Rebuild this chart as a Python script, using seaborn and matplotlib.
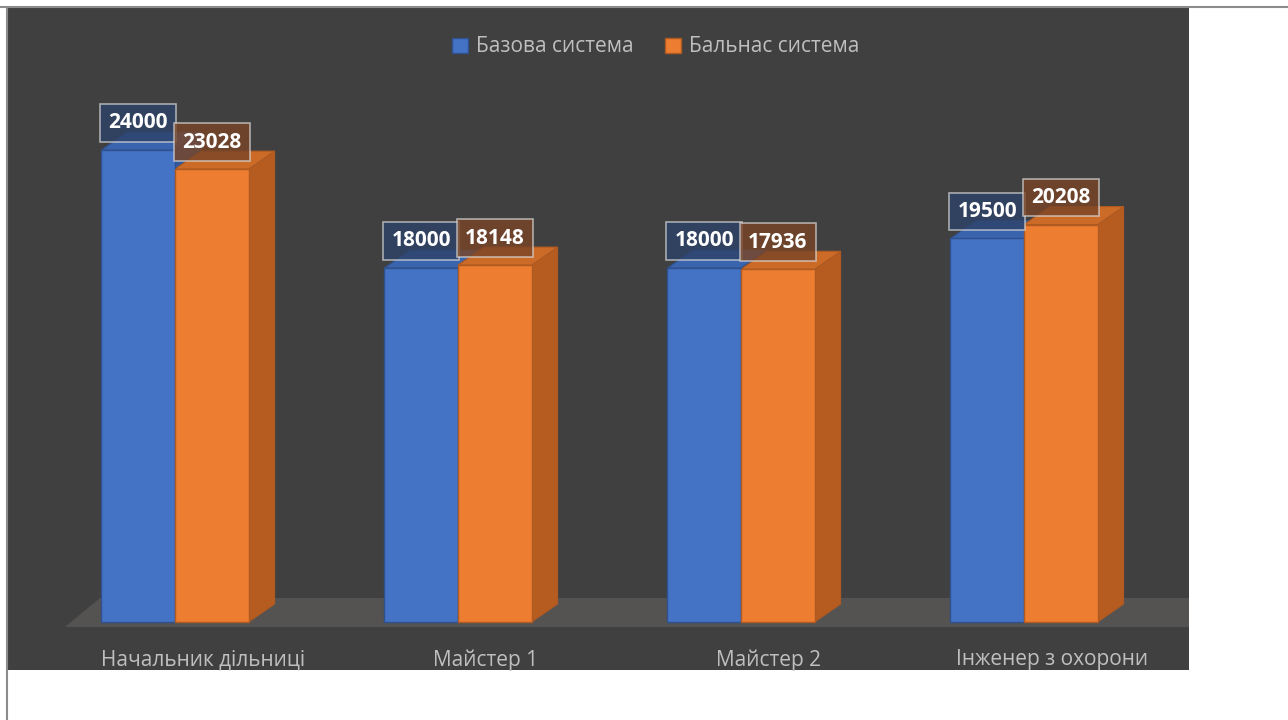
import numpy as np
import pandas as pd
import matplotlib
matplotlib.use("Agg")
import matplotlib.pyplot as plt
import seaborn as sns
from matplotlib.patches import Polygon, Rectangle
from matplotlib.lines import Line2D

# Дані з діаграми
categories = ["Начальник дільниці", "Майстер 1", "Майстер 2", "Інженер з охорони"]
series = ["Базова система", "Бальнас система"]
base_values = [24000, 18000, 18000, 19500]
bal_values = [23028, 18148, 17936, 20208]

front_colors = ["#4472C4", "#ED7D31"]
edge_colors = ["#2F528F", "#AE5A21"]
top_colors = ["#3B64AE", "#CC6A28"]
side_colors = ["#34599C", "#B65C20"]
box_colors = [(0.18, 0.26, 0.41, 0.8), (0.48, 0.27, 0.15, 0.8)]

df = pd.DataFrame({
    "cat": categories * 2,
    "series": [series[0]] * len(categories) + [series[1]] * len(categories),
    "value": base_values + bal_values,
})

sns.set_theme(style="dark")
plt.rcParams["font.family"] = ["Open Sans", "DejaVu Sans"]

W, H = 1288, 720
fig = plt.figure(figsize=(W / 100, H / 100), dpi=100)
fig.patch.set_facecolor("white")

# рамка
fig.lines.append(Line2D([0, 1], [1 - 7 / H, 1 - 7 / H], transform=fig.transFigure,
                        color="#8c8c8c", lw=1.5))
fig.lines.append(Line2D([7 / W, 7 / W], [0, 1 - 7 / H], transform=fig.transFigure,
                        color="#8c8c8c", lw=1.5))

# темна панель = сама вісь
ax = fig.add_axes([7 / W, 1 - 670 / H, 1182 / W, 662 / H])
ax.set_facecolor("#404040")

# масштаб: одиниць даних на піксель
xpp = 1 / 283
ypp = 24000 / 472
dx, dy = 26 * xpp, 18 * ypp

sns.barplot(data=df, x="cat", y="value", hue="series", palette=front_colors,
            width=0.52, saturation=1, ax=ax, legend=False, zorder=3, linewidth=1)

ax.set_xlim(-(175 - 7) * xpp, 3 + (1189 - 1024) * xpp)
ax.set_ylim(-(670 - 622) * ypp, (622 - 8) * ypp)

bars = list(ax.patches)

# підлога
x_left_b, x_left_t = (65 - 175) * xpp, (100 - 175) * xpp
x_right = ax.get_xlim()[1]
floor = Polygon([(x_left_b, -5 * ypp), (x_right, -5 * ypp),
                 (x_right, 24 * ypp), (x_left_t, 24 * ypp)],
                closed=True, facecolor="#545352", edgecolor="none", zorder=1)
ax.add_patch(floor)

n = len(categories)
for i, p in enumerate(bars):
    s = i // n
    p.set_edgecolor(edge_colors[s])
    x0, w, h = p.get_x(), p.get_width(), p.get_height()
    z = 2 + s * 0.5
    top = Polygon([(x0, h), (x0 + dx, h + dy), (x0 + w + dx, h + dy), (x0 + w, h)],
                  closed=True, facecolor=top_colors[s], edgecolor=edge_colors[s],
                  lw=0.8, zorder=z)
    side = Polygon([(x0 + w, 0), (x0 + w + dx, dy), (x0 + w + dx, h + dy), (x0 + w, h)],
                   closed=True, facecolor=side_colors[s], edgecolor=edge_colors[s],
                   lw=0.8, zorder=z)
    ax.add_patch(side)
    ax.add_patch(top)
    ax.text(x0 + w / 2, h + 27 * ypp, f"{int(round(h))}", ha="center", va="center",
            fontsize=15, fontweight="bold", color="white", zorder=6 + s,
            bbox=dict(boxstyle="square,pad=0.4", fc=box_colors[s],
                      ec=(0.85, 0.85, 0.85, 0.7), lw=1.2))

ax.set_xticks(np.arange(n) + 28 * xpp)
ax.set_xticklabels(categories, fontsize=15, color="#bfbfbf")
ax.tick_params(axis="x", length=0, pad=-15)
ax.set_yticks([])
ax.set_xlabel("")
ax.set_ylabel("")
for sp in ax.spines.values():
    sp.set_visible(False)
ax.grid(False)

handles = [Rectangle((0, 0), 1, 1, facecolor=front_colors[k], edgecolor=edge_colors[k], lw=1)
           for k in range(2)]
fig.legend(handles, series, loc="center", bbox_to_anchor=(656 / W, 1 - 47 / H), ncol=2,
           frameon=False, fontsize=15, labelcolor="#bfbfbf", handlelength=0.75,
           handleheight=0.75, handletextpad=0.4, columnspacing=1.5)

fig.savefig("out.png", dpi=100, facecolor="white")
